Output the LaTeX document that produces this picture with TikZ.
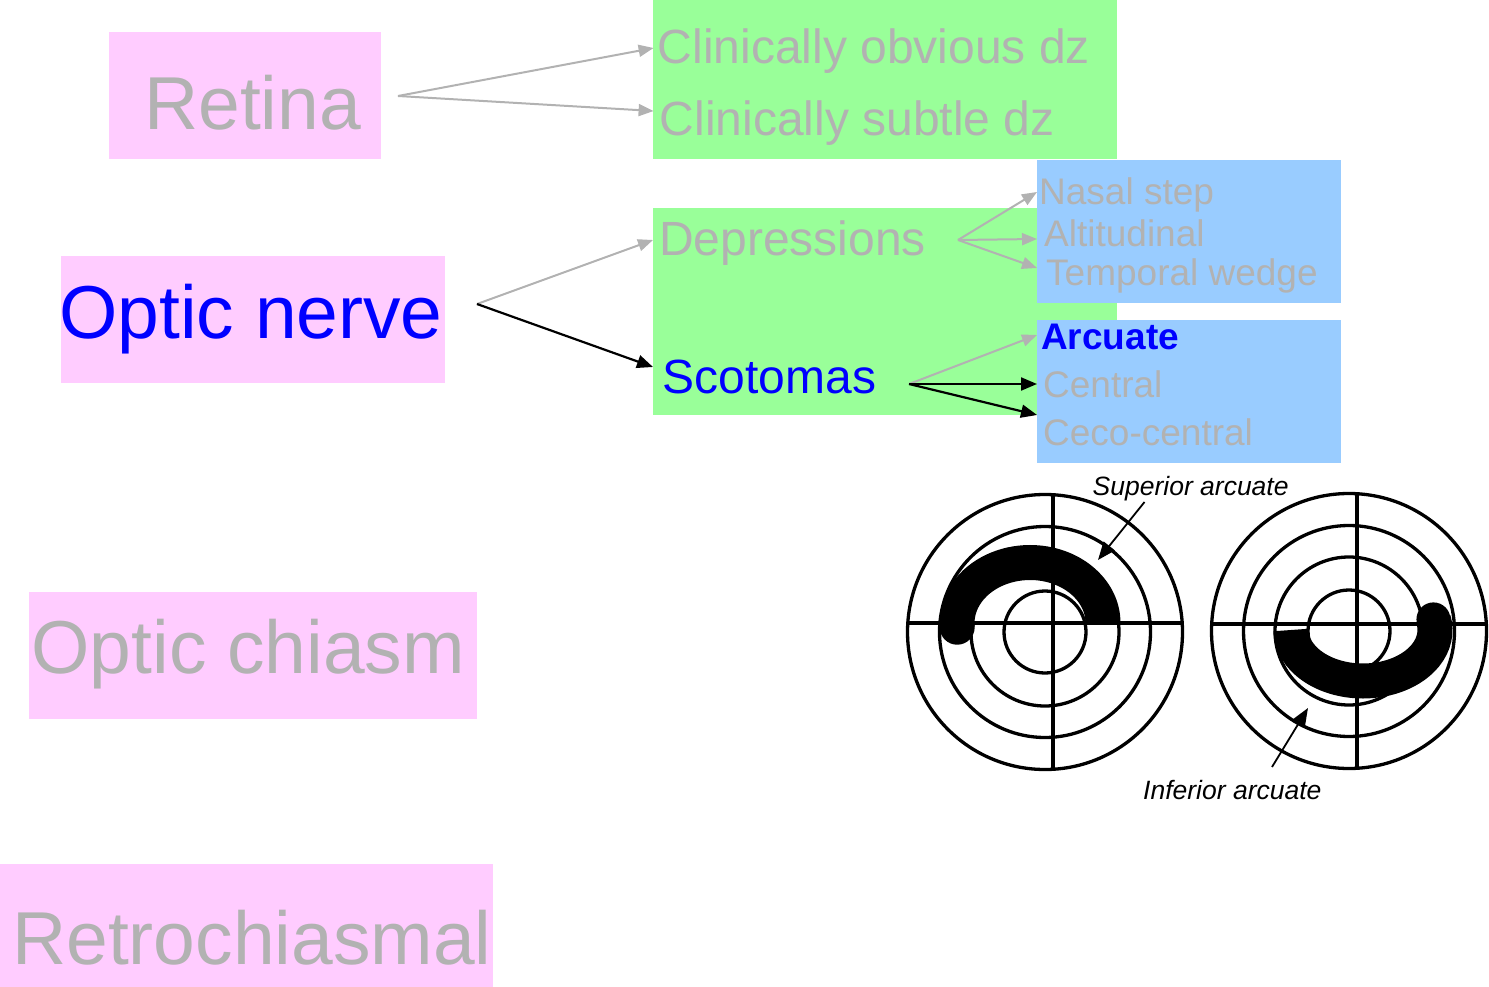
\documentclass[tikz,border=0pt]{standalone}
\usepackage{fontspec}
\setmainfont{Liberation Sans}
\usetikzlibrary{arrows.meta}

\definecolor{lobepink}{RGB}{255,204,255}
\definecolor{sitegreen}{RGB}{153,255,153}
\definecolor{typeblue}{RGB}{153,204,255}
\definecolor{dimgray}{RGB}{178,178,178}
\definecolor{hiblue}{RGB}{0,0,255}

\tikzset{
  panel/.style={draw=none, inner sep=0pt, outer sep=0pt},
  lobe/.style={panel, fill=lobepink},
  site/.style={panel, fill=sitegreen},
  kind/.style={panel, fill=typeblue},
  txt/.style={inner sep=0pt, anchor=base west},
  bigtxt/.style={txt, font=\fontsize{75}{80}\selectfont},
  midtxt/.style={txt, font=\fontsize{48}{54}\selectfont},
  smalltxt/.style={txt, font=\fontsize{37}{40}\selectfont},
  fieldtxt/.style={txt, font=\fontsize{26.5}{30}\selectfont\itshape},
  faded/.style={text=dimgray},
  lit/.style={text=hiblue},
  grayarrow/.style={-{Triangle[length=15pt,width=12pt]}, draw=dimgray, line width=2pt},
  blackarrow/.style={-{Triangle[length=16pt,width=13pt]}, draw=black, line width=2.2pt},
  fieldarrow/.style={-{Triangle[length=18pt,width=14pt]}, line width=1.8pt},
  fieldring/.style={line width=3.3pt},
  fieldaxis/.style={line width=4.5pt},
  fieldband/.style={line width=35pt},
}

\begin{document}
\begin{tikzpicture}[x=1pt, y=-1pt]
  \useasboundingbox (0,0) rectangle (1489,987);

  % coloured panels
  \node[lobe, minimum width=272pt, minimum height=127pt] (retinabox) at (245,95.5) {};
  \node[lobe, minimum width=384pt, minimum height=127pt] (nervebox) at (253,319.5) {};
  \node[lobe, minimum width=448pt, minimum height=127pt] (chiasmbox) at (253,655.5) {};
  \node[lobe, minimum width=493pt, minimum height=123pt] (retrobox) at (246.5,925.5) {};
  \node[site, minimum width=464pt, minimum height=159pt] (retinasite) at (885,79.5) {};
  \node[site, minimum width=464pt, minimum height=207pt] (nervesite) at (885,311.5) {};
  \node[kind, minimum width=304pt, minimum height=143pt] (deprkind) at (1189,231.5) {};
  \node[kind, minimum width=304pt, minimum height=143pt] (scotkind) at (1189,391.5) {};

  % words
  \node[bigtxt, faded] (retina) at (144,130) {Retina};
  \node[bigtxt, lit] (nerve) at (59,338) {Optic nerve};
  \node[bigtxt, faded] (chiasm) at (31.4,673) {Optic chiasm};
  \node[bigtxt, faded] (retro) at (12,964) {Retrochiasmal};

  \node[midtxt, faded] (obvious) at (657.6,64) {Clinically obvious dz};
  \node[midtxt, faded] (subtle) at (659.6,136) {Clinically subtle dz};
  \node[midtxt, faded] (depr) at (659,255) {Depressions};
  \node[midtxt, lit] (scot) at (662.6,393) {Scotomas};

  \node[smalltxt, faded] (nasal) at (1039,205) {Nasal step};
  \node[smalltxt, faded] (alti) at (1044,247) {Altitudinal};
  \node[smalltxt, faded] (wedge) at (1046,285) {Temporal wedge};
  \node[txt, lit, font=\fontsize{37}{40}\selectfont\bfseries] (arcuate) at (1041,349) {Arcuate};
  \node[smalltxt, faded] (central) at (1043,397) {Central};
  \node[smalltxt, faded] (ceco) at (1043,445) {Ceco-central};

  % arrows
  \coordinate (retinaout) at (398,96);
  \draw[grayarrow] (retinaout) -- ([xshift=-4pt,yshift=16pt]obvious.base west);
  \draw[grayarrow] (retinaout) -- ([xshift=-6pt,yshift=25pt]subtle.base west);

  \coordinate (nerveout) at (477,304);
  \draw[grayarrow] (nerveout) -- ([xshift=-6pt,yshift=15pt]depr.base west);
  \draw[blackarrow] (nerveout) -- ([xshift=-9.6pt,yshift=26pt]scot.base west);

  \coordinate (deprout) at (958,240);
  \draw[grayarrow] (deprout) -- ([xshift=-2pt,yshift=13pt]nasal.base west);
  \draw[grayarrow] (deprout) -- ([xshift=-7pt,yshift=8pt]alti.base west);
  \draw[grayarrow] (deprout) -- ([xshift=-9pt,yshift=17pt]wedge.base west);

  \coordinate (scotout) at (909,384);
  \draw[grayarrow] (scotout) -- ([xshift=-4pt,yshift=14pt]arcuate.base west);
  \draw[blackarrow] (scotout) -- ([xshift=-6pt,yshift=13pt]central.base west);
  \draw[blackarrow] (scotout) -- ([xshift=-6pt,yshift=30pt]ceco.base west);

  % field defects
  \draw[fieldband] (1103,623) arc[start angle=0, end angle=184, x radius=73pt, y radius=60.5pt] coordinate (supend);
  \fill (supend) circle (17.5pt);
  \draw[fieldband] (1291,630) arc[start angle=180, end angle=372, x radius=72pt, y radius=51pt] coordinate (infend);
  \fill (infend) circle (17pt);

  % field charts
  \foreach \cx/\cy/\vx/\hy in {1045/632/1053/623, 1349/631/1357/624} {
    \foreach \r in {41,74,105.5,137.5}
      \draw[fieldring] (\cx,\cy) circle (\r pt);
    \draw[fieldaxis] (\vx,\cy-137) -- (\vx,\cy+137);
    \draw[fieldaxis] (\cx-137.5,\hy) -- (\cx+137.5,\hy);
  }

  \node[fieldtxt] (suplabel) at (1092.5,495) {Superior arcuate};
  \node[fieldtxt] (inflabel) at (1143,799) {Inferior arcuate};
  \coordinate (suptip) at (1098,560);
  \coordinate (inftip) at (1308,708);
  \draw[fieldarrow] ([xshift=52pt,yshift=-7pt]suplabel.base west) -- (suptip);
  \draw[fieldarrow] ([xshift=129pt,yshift=32pt]inflabel.base west) -- (inftip);
\end{tikzpicture}
\end{document}
